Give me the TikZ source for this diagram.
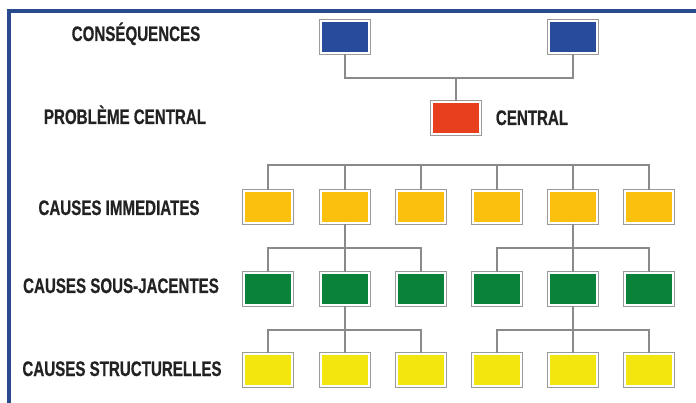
\documentclass[tikz,border=0pt]{standalone}
\usepackage{fontspec}
\setmainfont{Liberation Sans}[FakeStretch=0.72, BoldFeatures={FakeBold=0.6}]

\definecolor{framblue}{HTML}{2A4A8E}
\definecolor{consblue}{HTML}{294B9B}
\definecolor{centred}{HTML}{E8401F}
\definecolor{immorange}{HTML}{FBBF0D}
\definecolor{sousgreen}{HTML}{0B8239}
\definecolor{structyellow}{HTML}{F2E60E}
\definecolor{boxgray}{HTML}{9A9A9A}
\definecolor{linegray}{HTML}{8A8A8A}
\definecolor{txt}{HTML}{222222}

\tikzset{
  box/.style={minimum width=48pt, minimum height=32pt, inner sep=0pt,
    fill=#1, draw=white, line width=2pt,
    preaction={draw=boxgray, line width=4.6pt}},
  lbl/.style={anchor=base, inner sep=0pt, text=txt,
    font=\fontsize{21}{21}\selectfont\bfseries},
  link/.style={draw=linegray, line width=1.2pt}
}

\begin{document}
\begin{tikzpicture}[x=1pt,y=-1pt]
    \useasboundingbox (0,0) rectangle (696,403);
    \draw[framblue, line width=4pt] (696,11) -- (9,11) -- (9,403);
    % level labels
    \node[lbl] (lcons) at (136,41) {CONSÉQUENCES};
    \node[lbl] (lprob) at (125,124) {PROBLÈME CENTRAL};
    \node[lbl] (limm) at (119,215) {CAUSES IMMEDIATES};
    \node[lbl] (lsous) at (121,293) {CAUSES SOUS-JACENTES};
    \node[lbl] (lstruct) at (122,376) {CAUSES STRUCTURELLES};
    \node[lbl] (lcent) at (532,125) {CENTRAL};
    % boxes
    \node[box=consblue] (c1) at (345,37) {};
    \node[box=consblue] (c2) at (573,37) {};
    \node[box=centred] (pc) at (456,118) {};
    \foreach \i/\x in {1/268,2/345,3/421,4/497,5/573,6/649} {
      \node[box=immorange] (i\i) at (\x,207) {};
      \node[box=sousgreen] (s\i) at (\x,289) {};
      \node[box=structyellow] (t\i) at (\x,370) {};
    }
    % connectors
    \coordinate (cbus) at (456,78);
    \coordinate (ibus) at (0,165);
    \coordinate (sbus) at (0,248);
    \coordinate (tbus) at (0,330);
    \draw[link] (c1.south) |- (cbus) -| (c2.south);
    \draw[link] (pc.north) -- (cbus);
    \draw[link] (i1.north) |- (i6.north |- ibus) -- (i6.north);
    \foreach \i in {2,...,5}
      \draw[link] (i\i.north) -- (i\i.north |- ibus);
    \draw[link] (s1.north) |- (s3.north |- sbus) -- (s3.north);
    \draw[link] (s4.north) |- (s6.north |- sbus) -- (s6.north);
    \draw[link] (i2.south) -- (s2.north);
    \draw[link] (i5.south) -- (s5.north);
    \draw[link] (t1.north) |- (t3.north |- tbus) -- (t3.north);
    \draw[link] (t4.north) |- (t6.north |- tbus) -- (t6.north);
    \draw[link] (s2.south) -- (t2.north);
    \draw[link] (s5.south) -- (t5.north);
\end{tikzpicture}
\end{document}
